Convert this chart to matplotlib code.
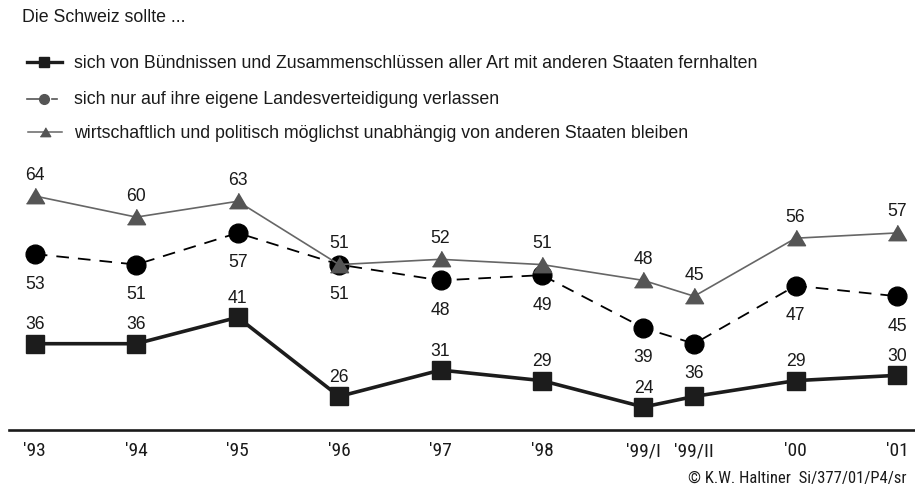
import matplotlib
matplotlib.use("Agg")
import matplotlib.pyplot as plt
from matplotlib.lines import Line2D
from matplotlib import font_manager
import numpy as np

# ---- data ----
periods = ["'93", "'94", "'95", "'96", "'97", "'98", "'99/I", "'99/II", "'00", "'01"]
period_pos = [0, 1, 2, 3, 4, 5, 6, 6.5, 7.5, 8.5]
fernhalten = [36, 36, 41, 26, 31, 29, 24, 26, 29, 30]
fernhalten_labels = ["36", "36", "41", "26", "31", "29", "24", "", "29", "30"]
landesvert = [53, 51, 57, 51, 48, 49, 39, 36, 47, 45]
landesvert_labels = ["53", "51", "57", "51", "48", "49", "39", "36", "47", "45"]
unabh = [64, 60, 63, 51, 52, 51, 48, 45, 56, 57]
unabh_labels = ["64", "60", "63", "51", "52", "51", "48", "45", "56", "57"]

legend_texts = [
    "sich von Bündnissen und Zusammenschlüssen aller Art mit anderen Staaten fernhalten",
    "sich nur auf ihre eigene Landesverteidigung verlassen",
    "wirtschaftlich und politisch möglichst unabhängig von anderen Staaten bleiben",
]
title_text = "Die Schweiz sollte ..."
credit_text = "© K.W. Haltiner  Si/377/01/P4/sr"

W, H = 915, 489
plt.rcParams['font.family'] = ['Liberation Sans', 'DejaVu Sans']

# pick a narrow font for tick labels / credit if one is available
names = {f.name for f in font_manager.fontManager.ttflist}
narrow_props = dict(family=['DejaVu Sans'], stretch='condensed')
for cand in ['Liberation Sans Narrow', 'Arial Narrow', 'Roboto Condensed', 'Open Sans Condensed']:
    if cand in names:
        narrow_props = dict(family=[cand])
        break
tick_fp = font_manager.FontProperties(size=14, **narrow_props)
credit_fp = font_manager.FontProperties(size=12, **narrow_props)

fig = plt.figure(figsize=(W / 100, H / 100), dpi=100)

# main axes: bottom at the axis line (y=431 px)
ax = fig.add_axes([9 / W, 1 - 431 / H, 1 - 9 / W, 431 / H])
ax.set_xlim(-0.2545, 8.677)
ax.set_ylim(19.64, 101.35)
for s in ['top', 'right', 'left']:
    ax.spines[s].set_visible(False)
ax.spines['bottom'].set_linewidth(1.9)
ax.spines['bottom'].set_color('#1a1a1a')
ax.set_yticks([])
ax.tick_params(axis='x', length=0, pad=8, colors='#1a1a1a')
ax.set_xticks(period_pos)
ax.set_xticklabels(periods, fontproperties=tick_fp)
ax.patch.set_alpha(0)

tri = [(-1.0, -0.8), (1.0, -0.8), (0.0, 0.9)]
sq_col = '#1c1c1c'
tri_col = '#555555'

ax.plot(period_pos, fernhalten, color=sq_col, lw=2.6, marker='s', ms=13.5,
        mfc=sq_col, mec=sq_col, zorder=3)
ax.plot(period_pos, landesvert, color='black', lw=1.3, dashes=(7, 5), marker='o',
        ms=13.5, mfc='black', mec='black', zorder=4)
ax.plot(period_pos, unabh, color='#666666', lw=1.2, marker=tri, ms=13,
        mfc=tri_col, mec=tri_col, zorder=5)

fs_lab = 12.7
for x, y, t in zip(period_pos, fernhalten, fernhalten_labels):
    if t:
        ax.annotate(t, (x, y), xytext=(0, 20), textcoords='offset pixels',
                    ha='center', va='center', fontsize=fs_lab, color='#1a1a1a')
for x, y, t in zip(period_pos, landesvert, landesvert_labels):
    if t:
        ax.annotate(t, (x, y), xytext=(0, -29), textcoords='offset pixels',
                    ha='center', va='center', fontsize=fs_lab, color='#1a1a1a')
for x, y, t in zip(period_pos, unabh, unabh_labels):
    if t:
        ax.annotate(t, (x, y), xytext=(0, 22), textcoords='offset pixels',
                    ha='center', va='center', fontsize=fs_lab, color='#1a1a1a')

# overlay axes in pixel coordinates for title, legend, credit
ov = fig.add_axes([0, 0, 1, 1])
ov.set_xlim(0, W)
ov.set_ylim(H, 0)
ov.axis('off')
ov.patch.set_alpha(0)

ov.text(22, 18, title_text, fontsize=12.8, va='center', ha='left', color='#1a1a1a')

ly = [63, 100, 133]
# entry 1
ov.add_line(Line2D([27, 62], [ly[0], ly[0]], color=sq_col, lw=2.4))
ov.add_line(Line2D([44], [ly[0]], marker='s', ms=7, color=sq_col))
# entry 2
ov.add_line(Line2D([27, 40], [ly[1], ly[1]], color='#555555', lw=1.2))
ov.add_line(Line2D([52, 57], [ly[1], ly[1]], color='#555555', lw=1.2))
ov.add_line(Line2D([44], [ly[1]], marker='o', ms=7, color='#555555'))
# entry 3
ov.add_line(Line2D([28, 62], [ly[2], ly[2]], color='#666666', lw=1.1))
ov.add_line(Line2D([45], [ly[2]], marker=tri, ms=7.5, color=tri_col))
for y, t in zip(ly, legend_texts):
    ov.text(74, y, t, fontsize=12.8, va='center', ha='left', color='#1a1a1a')

ov.text(906, 478, credit_text, va='center', ha='right', color='#1a1a1a',
        fontproperties=credit_fp)

fig.savefig('out.png', dpi=100)
